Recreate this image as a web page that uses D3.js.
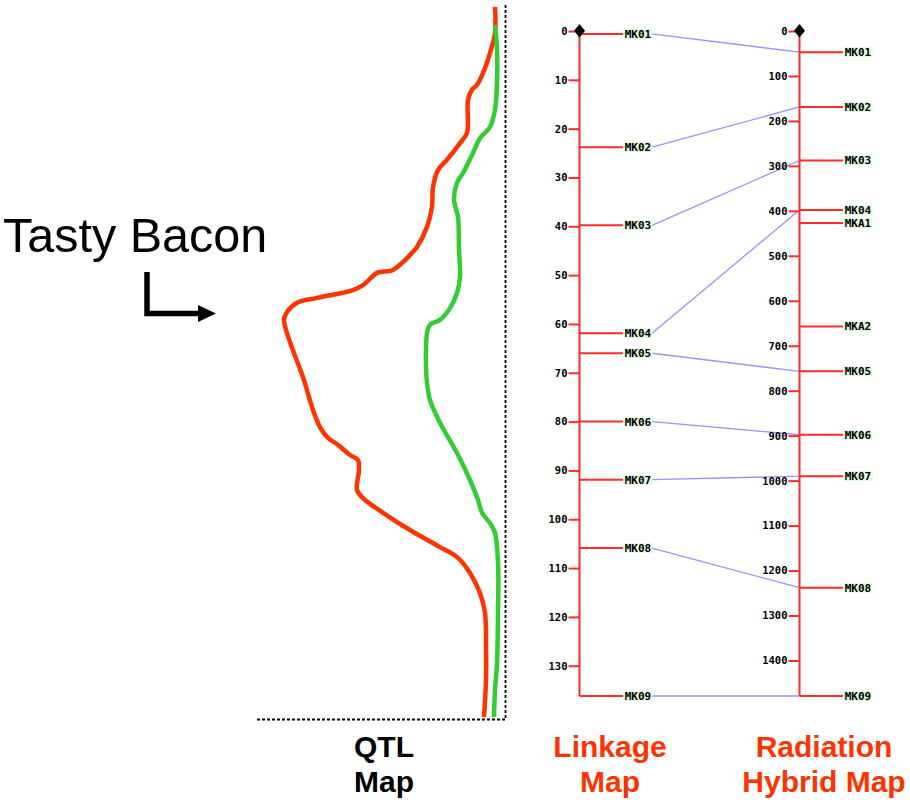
<!DOCTYPE html>
<html>
<head>
<meta charset="utf-8">
<script src="https://cdn.jsdelivr.net/npm/d3@7"></script>
<style>
	body { margin: 0; background: #fff; }
	svg { display: block; }
	.tick text { font-family: "DejaVu Sans Mono", monospace; font-weight: bold; font-size: 10.5px; fill: #000; }
	.tick line { stroke: #ff2a2a; stroke-width: 2; }
	.mk { font-family: "DejaVu Sans Mono", monospace; font-weight: bold; font-size: 11px; fill: #000; }
	.title { font-family: "Liberation Sans", Arial, sans-serif; font-weight: bold; font-size: 30px; }
</style>
</head>
<body>
<svg id="vis" width="910" height="803"></svg>
<script>
// Linkage map (cM)
const linkMarkers = ["MK01", "MK02", "MK03", "MK04", "MK05", "MK06", "MK07", "MK08", "MK09"];
const linkPos = [0.6, 23.8, 39.8, 61.9, 66.0, 80.0, 91.9, 105.9, 136.2];
const linkTicks = [0, 10, 20, 30, 40, 50, 60, 70, 80, 90, 100, 110, 120, 130];

// Radiation hybrid map (cR)
const rhMarkers = ["MK01", "MK02", "MK03", "MK04", "MKA1", "MKA2", "MK05", "MK06", "MK07", "MK08", "MK09"];
const rhPos = [47, 169, 288, 398, 427, 657, 757, 898, 990, 1238, 1479];
const rhTicks = [0, 100, 200, 300, 400, 500, 600, 700, 800, 900, 1000, 1100, 1200, 1300, 1400];

// QTL profiles: position along chromosome and LOD
const redPos = [0, 5.3, 9.4, 13.5, 15.9, 16.9, 19.0, 25.7, 27.8, 31.2, 33.3, 36.8, 40.8, 44.9, 49.0, 50.2, 52.1, 53.8, 54.0, 54.3, 56.8, 57.8, 59.4, 60.4, 62.3, 63.9, 76.2, 81.7, 85.8, 88.0, 89.4, 91.5, 92.5, 94.5, 98.6, 100.3, 103.3, 106.8, 110.3, 112.5, 115.6, 119.7, 123.7, 130.7, 137.4, 145];
const redLod = [0.5, 0.5, 0.75, 1.1, 1.4, 1.65, 1.85, 1.9, 2.25, 2.9, 3.35, 3.6, 3.65, 3.9, 4.4, 4.65, 5.1, 5.65, 6.05, 6.4, 7.1, 7.6, 9.4, 10.4, 10.9, 11.05, 10.05, 9.65, 9.25, 8.85, 8.35, 7.75, 7.35, 7.3, 7.4, 7.1, 6.1, 4.75, 3.25, 2.35, 1.75, 1.25, 1.0, 0.95, 0.95, 1.05];
const greenPos = [3.7, 8.8, 15.5, 21.0, 24.5, 26.8, 29.8, 33.9, 35.9, 39.4, 42.9, 49.6, 55.1, 58.4, 61.5, 63.9, 64.9, 66.6, 73.5, 76.8, 80.3, 84.9, 91.1, 96.6, 100.7, 103.3, 105.4, 107.4, 113.5, 123.7, 134.0, 139.5, 145];
const greenLod = [0.5, 0.4, 0.4, 0.5, 0.75, 1.25, 1.6, 2.1, 2.4, 2.55, 2.35, 2.3, 2.25, 2.4, 2.75, 3.25, 3.75, 3.9, 3.95, 3.9, 3.75, 3.25, 2.4, 1.75, 1.35, 1.15, 0.75, 0.5, 0.35, 0.35, 0.4, 0.5, 0.55];

const red = "#ff3300";
const axisRed = "#ff2a2a";

const svg = d3.select("svg#vis");

// scales
const yLink = d3.scaleLinear().domain([0, 136.2]).range([31, 696]);
const yRh = d3.scaleLinear().domain([0, 1479]).range([31, 696]);
const yQtl = d3.scaleLinear().domain([0, 145]).range([7, 717]);
const xLod = d3.scaleLinear().domain([0, 11]).range([505, 285]);

const xLinkAxis = 579.5, xRhAxis = 799.5;

// ---- QTL panel ----
const qtl = svg.append("g");
qtl.append("path")
	.attr("d", `M${xLod(0) + 0.5},5V719.5H255`)
	.attr("fill", "none")
	.attr("stroke", "#000")
	.attr("stroke-width", 1.8)
	.attr("stroke-dasharray", "3,2");

const qtlLine = d3.line()
	.x(d => xLod(d[1]))
	.y(d => yQtl(d[0]))
	.curve(d3.curveCatmullRom.alpha(0.5));

qtl.append("path")
	.datum(d3.zip(redPos, redLod))
	.attr("d", qtlLine)
	.attr("fill", "none")
	.attr("stroke", red)
	.attr("stroke-width", 4.5);

qtl.append("path")
	.datum(d3.zip(greenPos, greenLod))
	.attr("d", qtlLine)
	.attr("fill", "none")
	.attr("stroke", "#33cc33")
	.attr("stroke-width", 4.5);

// Tasty Bacon label and arrow
svg.append("text")
	.attr("x", 3).attr("y", 252)
	.style("font-family", "'Liberation Sans', Arial, sans-serif")
	.style("font-size", "48.5px")
	.text("Tasty Bacon");

svg.append("path")
	.attr("d", "M147,272V313.5H199")
	.attr("fill", "none")
	.attr("stroke", "#000")
	.attr("stroke-width", 5.5);
svg.append("path")
	.attr("d", "M198,305L216,313.5L198,322Z")
	.attr("fill", "#000");

// ---- connectors between maps ----
const conn = svg.append("g");
linkMarkers.forEach(function(m, i) {
	let j = rhMarkers.indexOf(m);
	if (j < 0) return;
	conn.append("line")
		.attr("x1", 652).attr("y1", yLink(linkPos[i]))
		.attr("x2", xRhAxis).attr("y2", yRh(rhPos[j]))
		.attr("stroke", "#9494ff")
		.attr("stroke-width", 1.3);
});

// ---- axes ----
const gLink = svg.append("g").attr("transform", `translate(${xLinkAxis},0)`);
gLink.call(d3.axisLeft(yLink).tickValues(linkTicks).tickSize(11).tickPadding(1).tickFormat(d3.format("d")))
	.call(g => g.select(".domain").remove());

const gRh = svg.append("g").attr("transform", `translate(${xRhAxis},0)`);
gRh.call(d3.axisLeft(yRh).tickValues(rhTicks).tickSize(11).tickPadding(1).tickFormat(d3.format("d")))
	.call(g => g.select(".domain").remove());

[[xLinkAxis, yLink], [xRhAxis, yRh]].forEach(function(a) {
	let range = a[1].range();
	svg.append("line")
		.attr("x1", a[0]).attr("x2", a[0])
		.attr("y1", range[0]).attr("y2", range[1])
		.attr("stroke", axisRed)
		.attr("stroke-width", 2);
});

// marker lines and labels
function drawMarkers(names, pos, scale, x0) {
	const g = svg.append("g");
	names.forEach(function(m, i) {
		let y = scale(pos[i]);
		g.append("line")
			.attr("x1", x0).attr("x2", x0 + 43.5)
			.attr("y1", y).attr("y2", y)
			.attr("stroke", axisRed)
			.attr("stroke-width", 2);
		g.append("rect")
			.attr("x", x0 + 44).attr("y", y - 5)
			.attr("width", 29).attr("height", 10)
			.attr("fill", "#e2fbe0");
		g.append("text")
			.attr("class", "mk")
			.attr("x", x0 + 58.5).attr("y", y)
			.attr("dy", "0.36em")
			.attr("text-anchor", "middle")
			.text(m);
	});
}
drawMarkers(linkMarkers, linkPos, yLink, xLinkAxis);
drawMarkers(rhMarkers, rhPos, yRh, xRhAxis);

// diamonds at top of each map
[xLinkAxis, xRhAxis].forEach(function(x) {
	svg.append("path")
		.attr("d", `M${x},24L${x + 5.5},30.7L${x},37.4L${x - 5.5},30.7Z`)
		.attr("fill", "#000");
});

// ---- titles ----
const titles = [
	{ lines: ["QTL", "Map"], x: 384, color: "#000" },
	{ lines: ["Linkage", "Map"], x: 610, color: red },
	{ lines: ["Radiation", "Hybrid Map"], x: 824, color: red }
];
titles.forEach(function(t) {
	t.lines.forEach(function(l, k) {
		svg.append("text")
			.attr("class", "title")
			.attr("x", t.x).attr("y", 757 + k * 35)
			.attr("text-anchor", "middle")
			.attr("fill", t.color)
			.text(l);
	});
});
</script>
</body>
</html>
